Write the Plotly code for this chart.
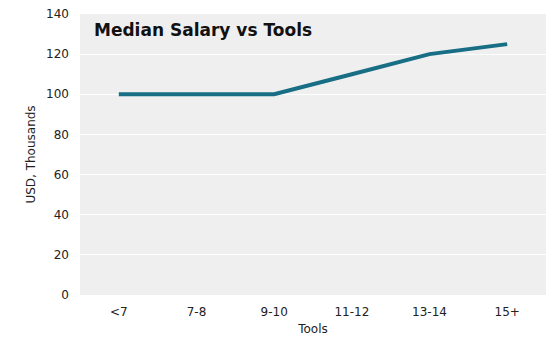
import plotly.graph_objects as go

categories = ["<7", "7-8", "9-10", "11-12", "13-14", "15+"]
salary = [100, 100, 100, 110, 120, 125]
y_ticks = [0, 20, 40, 60, 80, 100, 120, 140]

fig = go.Figure()
fig.add_trace(go.Scatter(
    x=categories, y=salary, mode="lines",
    line=dict(color="#176e85", width=4),
    hoverinfo="x+y",
))
fig.update_layout(
    width=553, height=344,
    margin=dict(l=80, r=7, t=12, b=49),
    paper_bgcolor="white", plot_bgcolor="#efefef",
    font=dict(family="DejaVu Sans, Verdana, sans-serif", size=12, color="#222"),
    showlegend=False,
    annotations=[dict(
        text="<b>Median Salary vs Tools</b>", xref="paper", yref="paper",
        x=0.026, y=0.985, xanchor="left", yanchor="top", showarrow=False,
        font=dict(size=17, color="#111"),
    )],
)
fig.update_xaxes(
    type="category", range=[-0.5, 5.5],
    title=dict(text="Tools", standoff=6, font=dict(size=12)),
    showgrid=False, zeroline=False, ticks="", ticklabelstandoff=8,
)
fig.update_yaxes(
    title=dict(text="USD, Thousands", standoff=7, font=dict(size=12)),
    range=[0, 140], tickvals=y_ticks, gridcolor="white", gridwidth=1,
    zeroline=False, ticks="", ticklabelstandoff=10,
)
fig.write_html("out.html")
